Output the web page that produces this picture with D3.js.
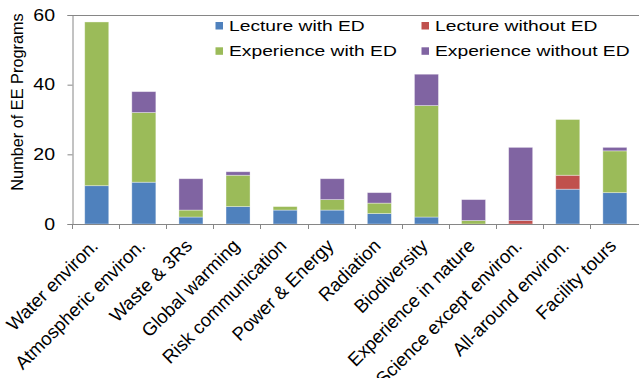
<!DOCTYPE html>
<html>
<head>
<meta charset="utf-8">
<script src="https://cdn.jsdelivr.net/npm/d3@7"></script>
<style>
  html, body { margin: 0; padding: 0; background: #fff; }
  svg { display: block; }
  text { font-family: "Liberation Sans", Arial, sans-serif; fill: #000; }
</style>
</head>
<body>
<svg id="chart" width="639" height="378"></svg>
<script>
// Environmental education programs by theme
const categories = [
  "Water environ.", "Atmospheric environ.", "Waste & 3Rs", "Global warming",
  "Risk communication", "Power & Energy", "Radiation", "Biodiversity",
  "Experience in nature", "Science except environ.", "All-around environ.", "Facility tours"
];
const lectureWithED       = [11, 12, 2, 5, 4, 4, 3, 2, 0, 0, 10, 9];
const lectureWithoutED    = [0, 0, 0, 0, 0, 0, 0, 0, 0, 1, 4, 0];
const experienceWithED    = [47, 20, 2, 9, 1, 3, 3, 32, 1, 0, 16, 12];
const experienceWithoutED = [0, 6, 9, 1, 0, 6, 3, 9, 6, 21, 0, 1];
const seriesNames = ["Lecture with ED", "Lecture without ED", "Experience with ED", "Experience without ED"];
const seriesColors = ["#4F81BD", "#C0504D", "#9BBB59", "#8064A2"];
const yTicks = [0, 20, 40, 60];
const yTitle = "Number of EE Programs";

const seriesValues = [lectureWithED, lectureWithoutED, experienceWithED, experienceWithoutED];
const rows = categories.map((c, i) => {
  const r = { cat: c };
  seriesNames.forEach((s, k) => { r[s] = seriesValues[k][i]; });
  return r;
});
const stacked = d3.stack().keys(seriesNames)(rows);

const svg = d3.select("#chart");
const plotLeft = 72, plotRight = 639.6, plotTop = 15, plotBottom = 224;
const axisColor = "#868686";

const x = d3.scaleBand().domain(categories).range([plotLeft, plotRight]).paddingInner(0.49).paddingOuter(0.27);
const y = d3.scaleLinear().domain([0, 60]).range([plotBottom, plotTop]);
const color = d3.scaleOrdinal().domain(seriesNames).range(seriesColors);

// stacked bars
svg.append("g").selectAll("g").data(stacked).join("g")
  .attr("fill", d => color(d.key))
  .selectAll("rect").data(d => d).join("rect")
  .attr("x", d => x(d.data.cat))
  .attr("width", x.bandwidth())
  .attr("y", d => y(d[1]))
  .attr("height", d => y(d[0]) - y(d[1]))
  .attr("stroke", "rgba(255,255,255,0.45)")
  .attr("stroke-width", 0.8);

// plot frame top edge
svg.append("line")
  .attr("x1", plotLeft).attr("x2", 639).attr("y1", plotTop + 0.5).attr("y2", plotTop + 0.5)
  .attr("stroke", axisColor).attr("stroke-width", 1);

// y axis
const yAxis = svg.append("g").attr("transform", `translate(${plotLeft + 0.5},0)`)
  .call(d3.axisLeft(y).tickValues(yTicks).tickSize(5).tickFormat(""));
yAxis.select(".domain").attr("stroke", axisColor);
yAxis.selectAll(".tick line").attr("stroke", axisColor);

// y tick labels (slightly widened glyphs)
svg.append("g").selectAll("text").data(yTicks).join("text")
  .attr("transform", d => `translate(55,${y(d) + 5.8}) scale(1.22,1)`)
  .attr("text-anchor", "end")
  .attr("font-size", 16)
  .text(d => d);

// y axis title
svg.append("text")
  .attr("transform", `translate(23,102) rotate(-90)`)
  .attr("text-anchor", "middle")
  .attr("font-size", 16.3)
  .text(yTitle);

// x axis with ticks at category boundaries
const xAxisG = svg.append("g");
xAxisG.append("line")
  .attr("x1", plotLeft).attr("x2", 639).attr("y1", plotBottom + 0.5).attr("y2", plotBottom + 0.5)
  .attr("stroke", axisColor);
const step = x.step();
const boundaries = d3.range(categories.length).map(i => plotLeft + i * step);
xAxisG.selectAll("line.tk").data(boundaries).join("line")
  .attr("class", "tk")
  .attr("x1", d => Math.round(d) + 0.5).attr("x2", d => Math.round(d) + 0.5)
  .attr("y1", plotBottom).attr("y2", plotBottom + 5)
  .attr("stroke", axisColor);

// category labels, rotated
svg.append("g").selectAll("text").data(categories).join("text")
  .attr("transform", d => `translate(${x(d) + x.bandwidth() / 2 + 2.5},247) rotate(-45)`)
  .attr("text-anchor", "end")
  .attr("font-size", 18.6)
  .text(d => d);

// legend
const legendPos = [[215.5, 22], [421.5, 22], [215.5, 47.3], [421.5, 47.3]];
const legendOrder = [0, 1, 2, 3];
const lg = svg.append("g").selectAll("g").data(legendOrder).join("g")
  .attr("transform", (d, i) => `translate(${legendPos[i][0]},${legendPos[i][1]})`);
lg.append("rect").attr("width", 7.5).attr("height", 7.5)
  .attr("fill", d => seriesColors[d]);
lg.append("text")
  .attr("transform", "translate(13.5,8.5) scale(1.3,1)")
  .attr("font-size", 14.8)
  .text(d => seriesNames[d]);
</script>
</body>
</html>
